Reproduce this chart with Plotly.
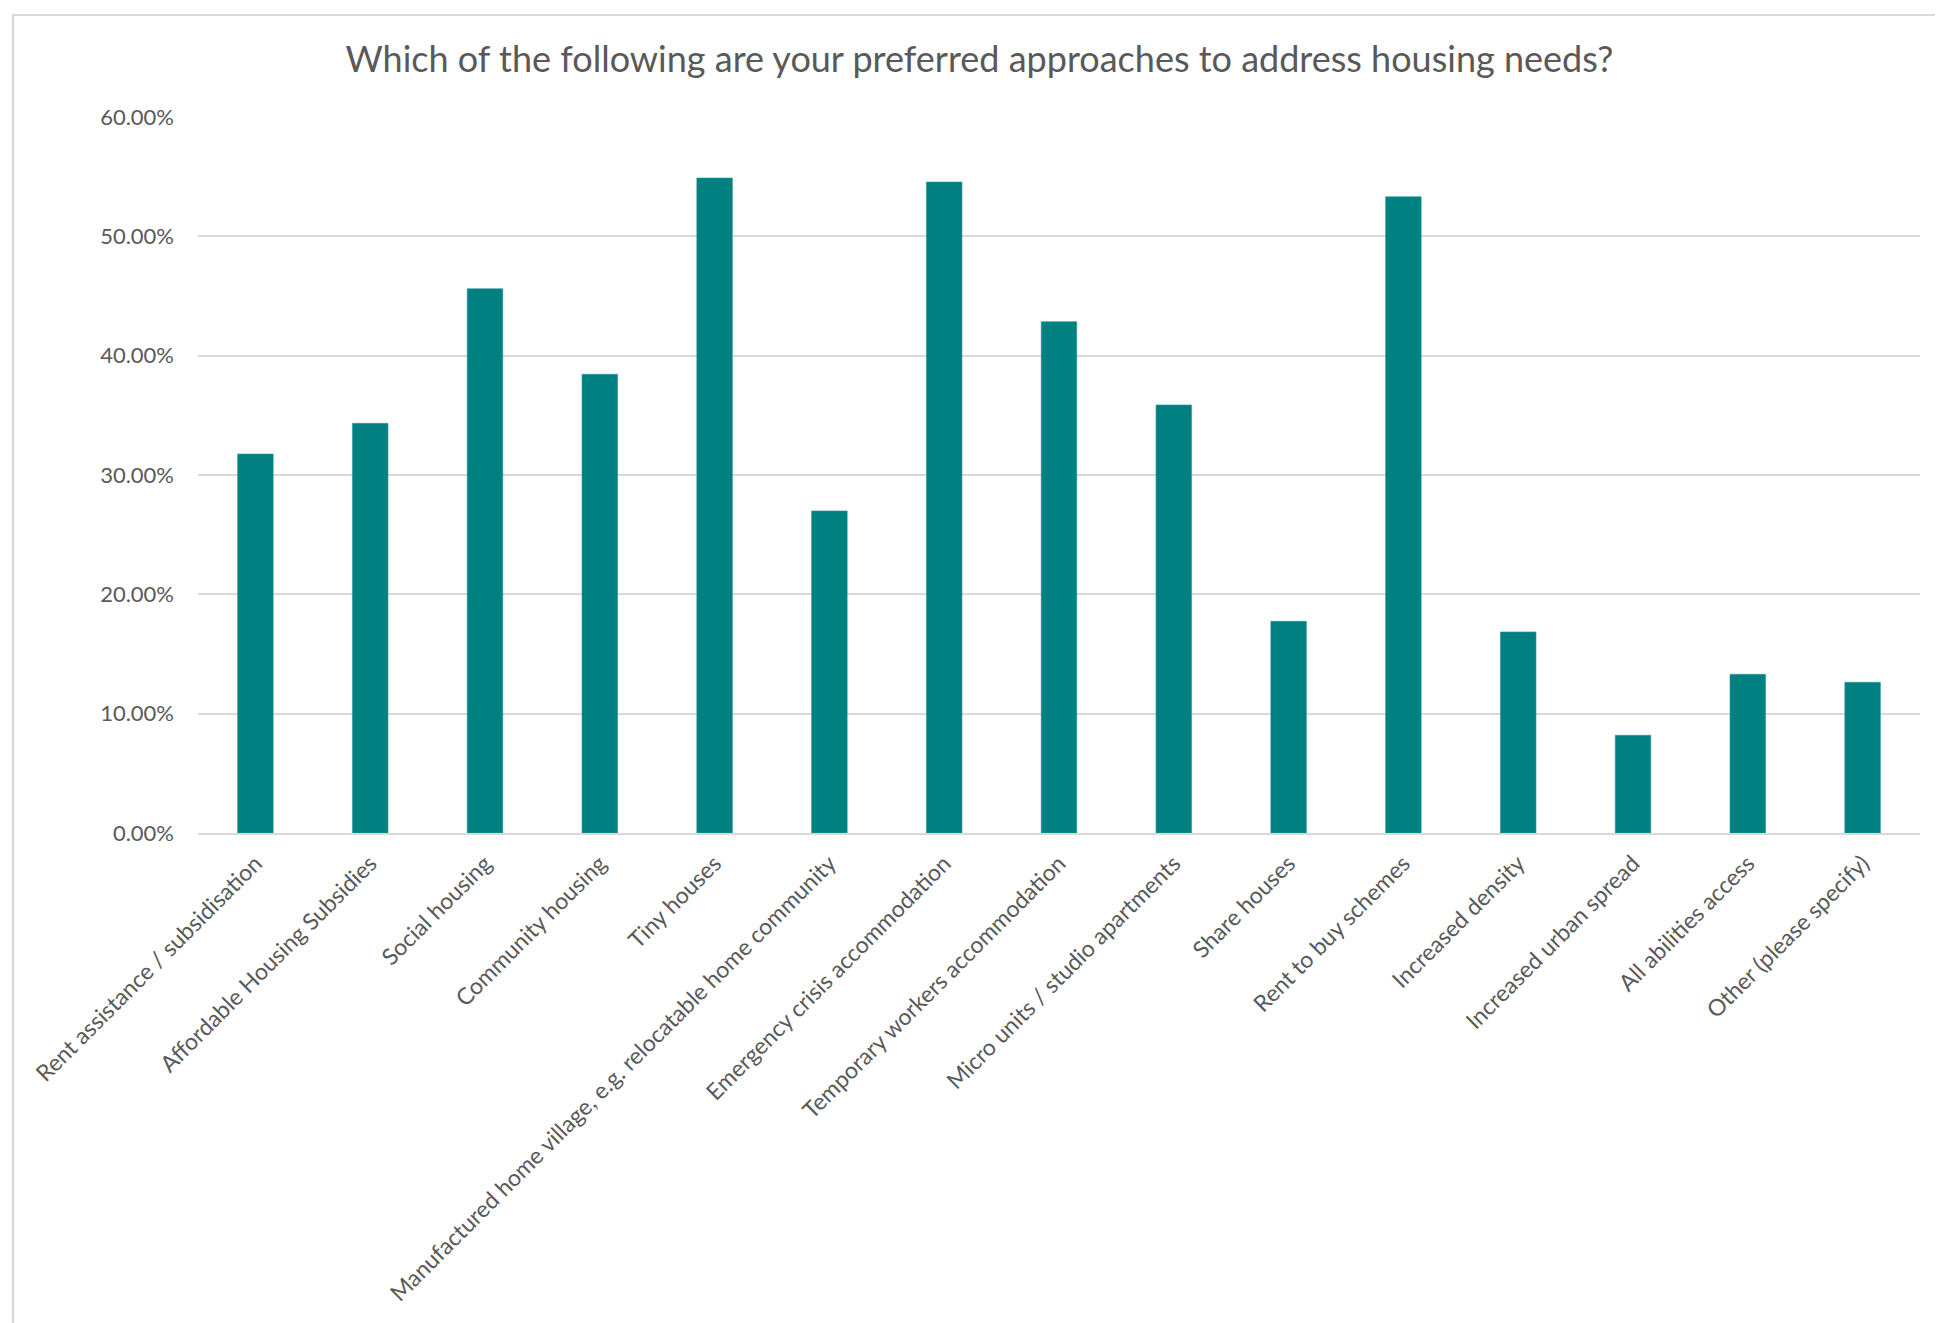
import plotly.graph_objects as go

categories = [
    "Rent assistance / subsidisation",
    "Affordable Housing Subsidies",
    "Social housing",
    "Community housing",
    "Tiny houses",
    "Manufactured home village, e.g. relocatable home community",
    "Emergency crisis accommodation",
    "Temporary workers accommodation",
    "Micro units / studio apartments",
    "Share houses",
    "Rent to buy schemes",
    "Increased density",
    "Increased urban spread",
    "All abilities access",
    "Other (please specify)",
]
values = [0.3176, 0.3433, 0.4561, 0.3844, 0.5489, 0.2699, 0.5455, 0.4285,
          0.3587, 0.1774, 0.5332, 0.1685, 0.0819, 0.1330, 0.1263]
y_ticks = [0, 0.1, 0.2, 0.3, 0.4, 0.5, 0.6]
y_tick_labels = ["0.00%", "10.00%", "20.00%", "30.00%", "40.00%", "50.00%", "60.00%"]
title_text = "Which of the following are your preferred approaches to address housing needs?"

W, H = 1943, 1323
L, R, T, B = 190, 31, 109, 498
pw, ph = W - L - R, H - T - B

def px_x(p):
    return (p - L) / pw

def px_y(p):
    return (H - B - p) / ph

grey_text = "#595959"
font_family = "Lato, 'Open Sans', sans-serif"

fig = go.Figure(
    go.Bar(
        x=categories,
        y=values,
        marker=dict(color="#008080", line=dict(color="#2a9a9a", width=0.6)),
        width=0.31,
    )
)

fig.update_layout(
    width=W,
    height=H,
    margin=dict(l=L, r=R, t=T, b=B, pad=0),
    paper_bgcolor="white",
    plot_bgcolor="white",
    showlegend=False,
    title=dict(
        text=title_text,
        x=0.5,
        xref="container",
        xanchor="center",
        y=1 - 51 / H,
        yref="container",
        yanchor="middle",
        font=dict(family=font_family, size=36, color=grey_text),
    ),
    font=dict(family=font_family, color=grey_text),
    shapes=[
        dict(
            type="rect",
            xref="paper",
            yref="paper",
            x0=px_x(5),
            x1=px_x(1941),
            y0=px_y(1340),
            y1=px_y(7),
            line=dict(color="#D9D9D9", width=2.2),
            fillcolor="rgba(0,0,0,0)",
            layer="below",
        )
    ],
)

fig.update_yaxes(
    range=[0, 0.6],
    tickvals=y_ticks,
    ticktext=y_tick_labels,
    showgrid=True,
    gridcolor="#D9D9D9",
    gridwidth=2,
    zeroline=False,
    showline=False,
    ticks="",
    ticklabelstandoff=23,
    tickfont=dict(family=font_family, size=22, color=grey_text),
)

fig.update_xaxes(
    showgrid=False,
    showline=True,
    linecolor="#D9D9D9",
    linewidth=2,
    ticks="",
    tickangle=-45,
    ticklabelstandoff=6,
    tickfont=dict(family=font_family, size=23, color=grey_text),
)

fig.write_html("out.html")
